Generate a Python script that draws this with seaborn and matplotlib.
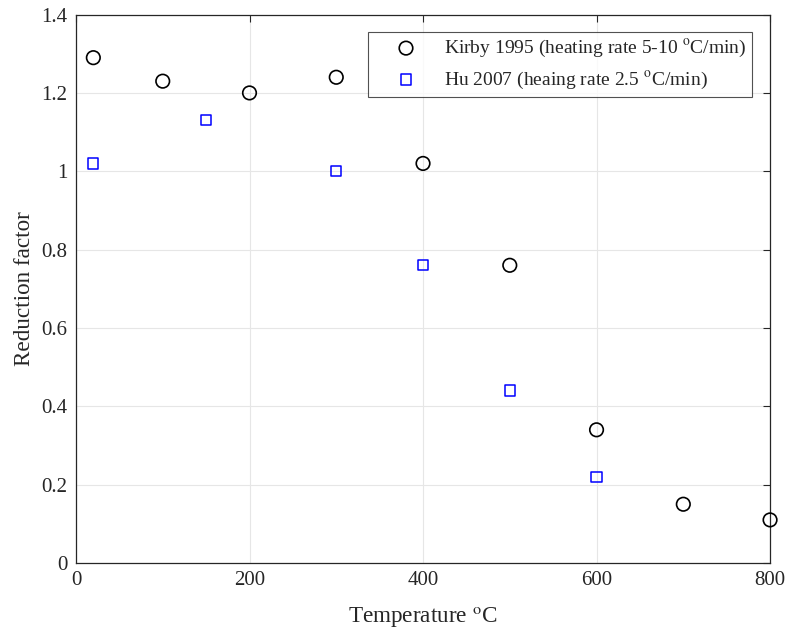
import matplotlib
matplotlib.use("Agg")
import matplotlib.pyplot as plt
import seaborn as sns
import pandas as pd
from matplotlib.ticker import FuncFormatter

kirby_temp = [20, 100, 200, 300, 400, 500, 600, 700, 800]
kirby_rf = [1.29, 1.23, 1.20, 1.24, 1.02, 0.76, 0.34, 0.15, 0.11]
hu_temp = [20, 150, 300, 400, 500, 600]
hu_rf = [1.02, 1.13, 1.00, 0.76, 0.44, 0.22]
kirby_label = r"Kirby 1995 (heating rate 5-10 $^{\rm o}$C/min)"
hu_label = r"Hu 2007 (heaing rate 2.5 $^{\rm o}$C/min)"

sns.set_theme(style="white")
plt.rcParams["font.family"] = ["Liberation Serif", "DejaVu Serif"]
plt.rcParams["mathtext.fontset"] = "stix"
plt.rcParams["xtick.direction"] = "in"
plt.rcParams["ytick.direction"] = "in"

fig = plt.figure(figsize=(7.89, 6.34), dpi=100)
ax = fig.add_axes([0.0963, 0.112, 0.8797, 0.865])

dk = pd.DataFrame({"T": kirby_temp, "R": kirby_rf})
dh = pd.DataFrame({"T": hu_temp, "R": hu_rf})
sns.scatterplot(data=dk, x="T", y="R", ax=ax, marker="o", s=95,
                facecolors="none", edgecolor="black", linewidth=1.2,
                label=kirby_label, clip_on=False, zorder=3)
sns.scatterplot(data=dh, x="T", y="R", ax=ax, marker="s", s=55,
                facecolors="none", edgecolor="#0000ff", linewidth=1.1,
                label=hu_label, clip_on=False, zorder=3)

ax.set_xlim(0, 800)
ax.set_ylim(0, 1.4)
ax.set_xticks([0, 200, 400, 600, 800])
ax.set_yticks([0, 0.2, 0.4, 0.6, 0.8, 1.0, 1.2, 1.4])
ax.yaxis.set_major_formatter(FuncFormatter(lambda v, p: "%g" % round(v, 2)))
ax.grid(True, color="#e6e6e6", linewidth=0.8)
ax.set_axisbelow(True)
for s in ax.spines.values():
    s.set_color("#262626")
    s.set_linewidth(0.9)
ax.tick_params(axis="both", colors="#262626", labelsize=15, length=5,
               width=0.8, top=True, right=True, pad=6)
ax.set_xlabel(r"Temperature $^{\rm o}$C", fontsize=16.7, color="#262626", labelpad=11)
ax.set_ylabel("Reduction factor", fontsize=16.7, color="#262626", labelpad=5)

leg = ax.legend(loc="upper right", bbox_to_anchor=(0.974, 0.968), borderaxespad=0,
                fontsize=14, frameon=True, fancybox=False, edgecolor="#262626",
                handlelength=3.3, handletextpad=0.3, borderpad=0.3,
                labelspacing=0.5)
leg.get_frame().set_linewidth(0.8)

fig.savefig("out.png", dpi=100)
